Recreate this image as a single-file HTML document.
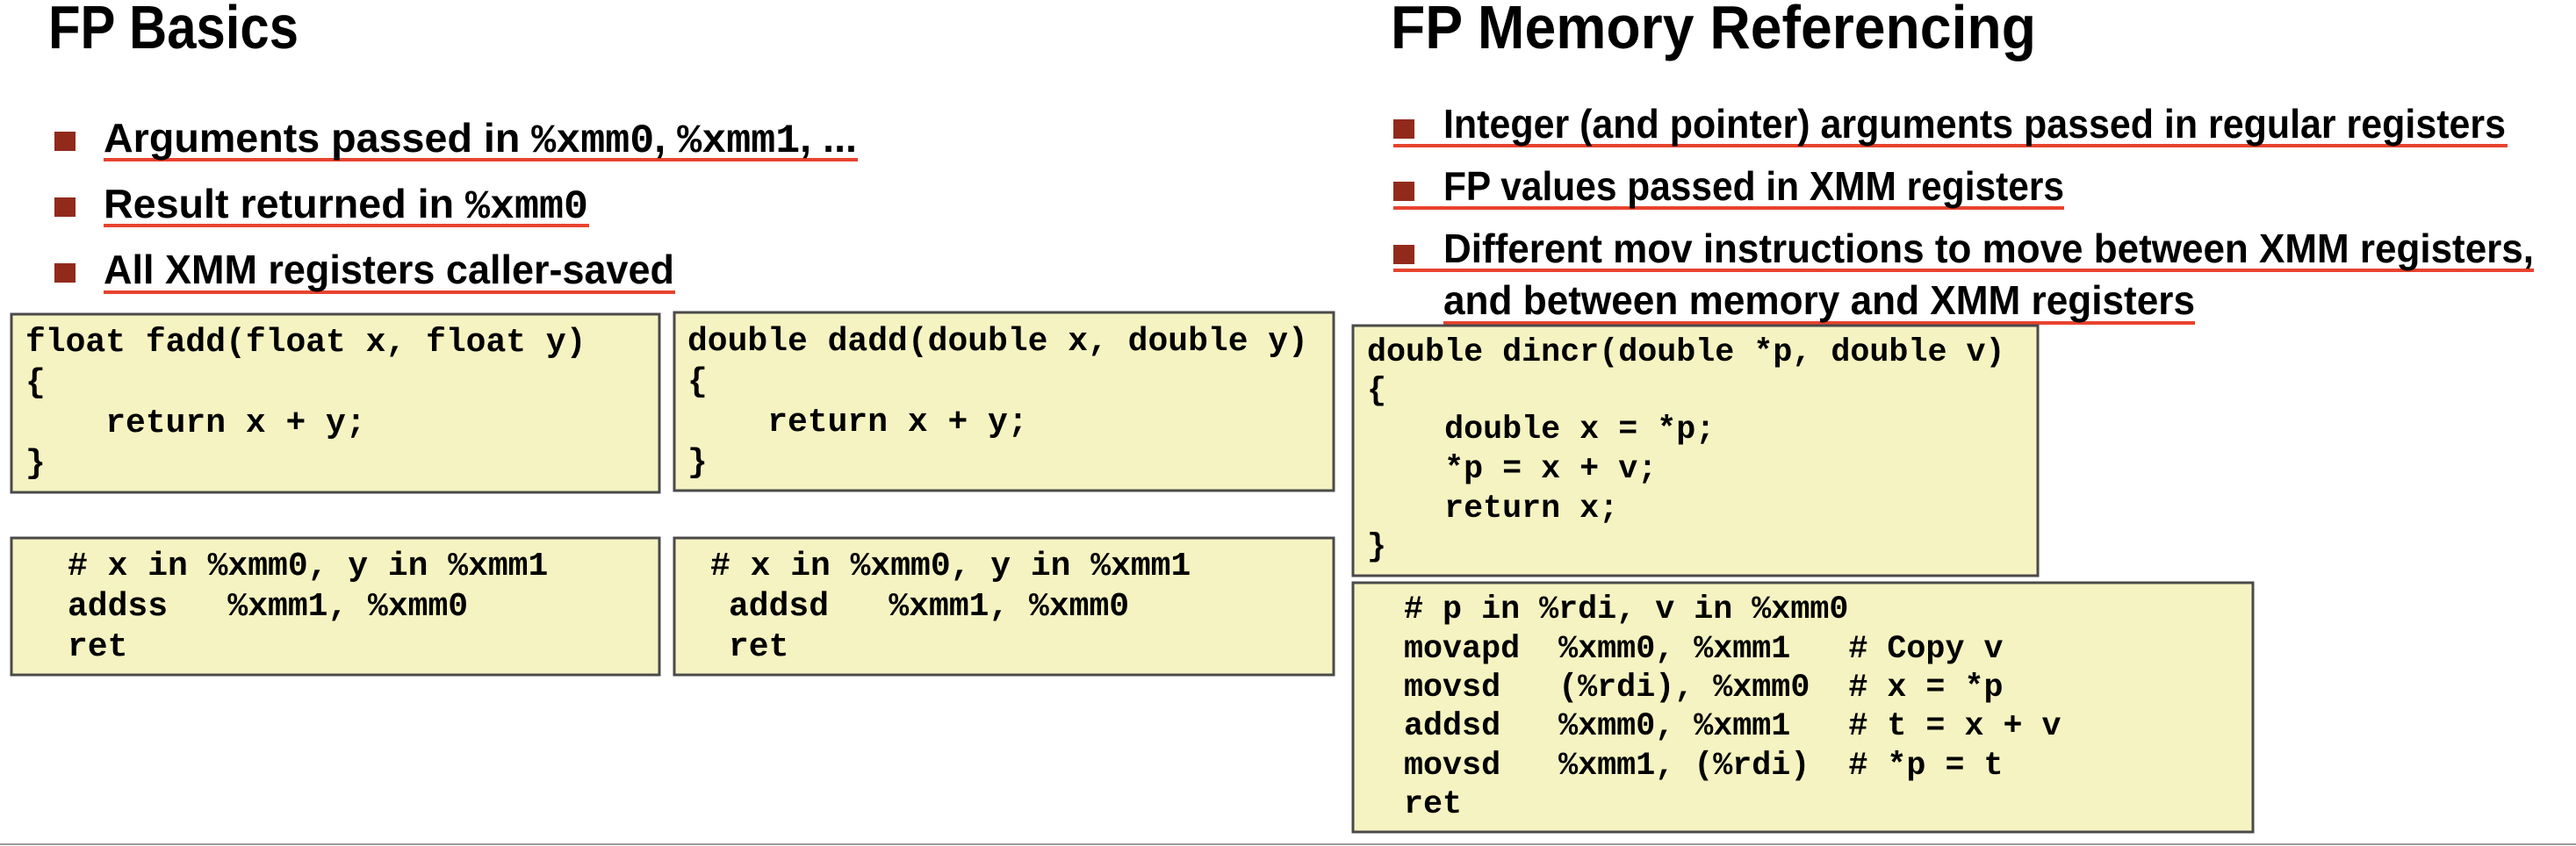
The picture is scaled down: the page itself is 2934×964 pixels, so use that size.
<!DOCTYPE html>
<html><head><meta charset="utf-8"><style>
html,body{margin:0;padding:0;background:#fff;}
svg{display:block}
.t{font-family:"Liberation Sans",sans-serif;font-weight:bold;fill:#000}
.m{font-family:"Liberation Mono",monospace;font-weight:bold;fill:#000;white-space:pre}
.box{fill:#f5f3c1;stroke:#4a4a4a;stroke-width:3}
</style></head><body>
<svg width="2934" height="964" viewBox="0 0 2934 964" xmlns="http://www.w3.org/2000/svg">
<text class="t" x="55" y="55" font-size="70" textLength="285" lengthAdjust="spacingAndGlyphs">FP Basics</text>
<text class="t" x="1584" y="55" font-size="70" textLength="735" lengthAdjust="spacingAndGlyphs">FP Memory Referencing</text>

<g fill="#922a1c">
<rect x="62" y="150" width="24" height="22"/>
<rect x="62" y="225" width="24" height="22"/>
<rect x="62" y="300" width="24" height="22"/>
<rect x="1587" y="136" width="24" height="22"/>
<rect x="1587" y="207" width="24" height="22"/>
<rect x="1587" y="279" width="24" height="22"/>
</g>
<g fill="#e8432e">
<rect x="118" y="180" width="859" height="4"/>
<rect x="118" y="255" width="553" height="4"/>
<rect x="118" y="331" width="651" height="4"/>
<rect x="1587" y="164" width="1269" height="4"/>
<rect x="1587" y="235" width="764" height="4"/>
<rect x="1587" y="306" width="1299" height="4"/>
<rect x="1644" y="366" width="856" height="4"/>
</g>
<text class="t" x="118" y="173" font-size="46" textLength="858" lengthAdjust="spacingAndGlyphs">Arguments passed in <tspan class="m">%xmm0</tspan>, <tspan class="m">%xmm1</tspan>, ...</text>
<text class="t" x="118" y="248" font-size="46" textLength="552" lengthAdjust="spacingAndGlyphs">Result returned in <tspan class="m">%xmm0</tspan></text>
<text class="t" x="118" y="323" font-size="46" textLength="650" lengthAdjust="spacingAndGlyphs">All XMM registers caller-saved</text>

<text class="t" x="1644" y="157" font-size="46" textLength="1210" lengthAdjust="spacingAndGlyphs">Integer (and pointer) arguments passed in regular registers</text>
<text class="t" x="1644" y="228" font-size="46" textLength="707" lengthAdjust="spacingAndGlyphs">FP values passed in XMM registers</text>
<text class="t" x="1644" y="299" font-size="46" textLength="1242" lengthAdjust="spacingAndGlyphs">Different mov instructions to move between XMM registers,</text>
<text class="t" x="1644" y="358" font-size="46" textLength="856" lengthAdjust="spacingAndGlyphs">and between memory and XMM registers</text>

<rect class="box" x="13" y="358" width="738" height="203"/>
<rect class="box" x="768" y="356" width="751" height="203"/>
<rect class="box" x="13" y="613" width="738" height="156"/>
<rect class="box" x="768" y="613" width="751" height="156"/>
<rect class="box" x="1541" y="371" width="780" height="285"/>
<rect class="box" x="1541" y="664" width="1025" height="284"/>

<g font-size="38">
<text class="m" x="29" y="400">float fadd(float x, float y)</text>
<text class="m" x="29" y="446">{</text>
<text class="m" x="29" y="492">    return x + y;</text>
<text class="m" x="29" y="538">}</text>

<text class="m" x="783" y="399">double dadd(double x, double y)</text>
<text class="m" x="783" y="445">{</text>
<text class="m" x="783" y="491">    return x + y;</text>
<text class="m" x="783" y="537">}</text>

<text class="m" x="77" y="655"># x in %xmm0, y in %xmm1</text>
<text class="m" x="77" y="701">addss   %xmm1, %xmm0</text>
<text class="m" x="77" y="747">ret</text>

<text class="m" x="809" y="655"># x in %xmm0, y in %xmm1</text>
<text class="m" x="830" y="701">addsd   %xmm1, %xmm0</text>
<text class="m" x="830" y="747">ret</text>
</g>
<g font-size="36.7">
<text class="m" x="1557" y="411">double dincr(double *p, double v)</text>
<text class="m" x="1557" y="455">{</text>
<text class="m" x="1557" y="499">    double x = *p;</text>
<text class="m" x="1557" y="544">    *p = x + v;</text>
<text class="m" x="1557" y="589">    return x;</text>
<text class="m" x="1557" y="633">}</text>

<text class="m" x="1599" y="704"># p in %rdi, v in %xmm0</text>
<text class="m" x="1599" y="749">movapd  %xmm0, %xmm1   # Copy v</text>
<text class="m" x="1599" y="793">movsd   (%rdi), %xmm0  # x = *p</text>
<text class="m" x="1599" y="837">addsd   %xmm0, %xmm1   # t = x + v</text>
<text class="m" x="1599" y="882">movsd   %xmm1, (%rdi)  # *p = t</text>
<text class="m" x="1599" y="926">ret</text>
</g>
<rect x="0" y="961" width="2934" height="2" fill="#9a9a9a"/>
</svg>
</body></html>
